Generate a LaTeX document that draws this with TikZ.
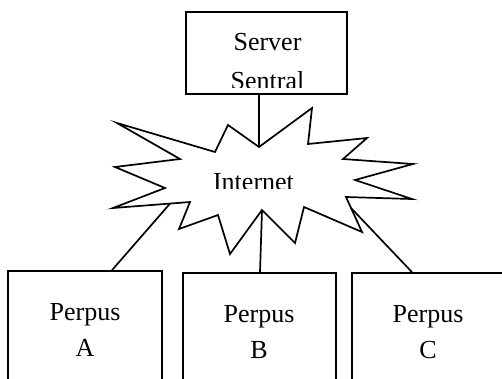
\documentclass[tikz,border=0pt]{standalone}
\usepackage{fontspec}
\setmainfont{Liberation Serif}
\begin{document}
\begin{tikzpicture}[x=1pt,y=-1pt, line width=1.7pt, line join=miter,
  boxshape/.style={draw, line width=1.7pt, inner sep=0pt},
  lbl/.style={anchor=base, inner sep=0pt, font=\fontsize{26}{39}\selectfont},
  link/.style={draw, line width=1.7pt}]
\useasboundingbox (0,0) rectangle (502,378);
\clip (0,0) rectangle (502,378);

% central server box
\node[boxshape, minimum width=161pt, minimum height=82pt] (srv) at (266.5,53) {};
\node[lbl] (srvA) at (267.5,50) {Server};
\begin{scope}
  \clip (187,60) rectangle (346,87);
  \node[lbl] (srvB) at (267.5,89) {Sentral};
\end{scope}

% internet cloud (star burst)
\coordinate (s1) at (259,147);
\coordinate (s2) at (312,108);
\coordinate (s3) at (308,144);
\coordinate (s4) at (367,138);
\coordinate (s5) at (343,159);
\coordinate (s6) at (413,164);
\coordinate (s7) at (355,180);
\coordinate (s8) at (412,199);
\coordinate (s9) at (346,197);
\coordinate (s10) at (362,232);
\coordinate (s11) at (304,207);
\coordinate (s12) at (295,243);
\coordinate (s13) at (262,210);
\coordinate (s14) at (230,254);
\coordinate (s15) at (218,215);
\coordinate (s16) at (179,229);
\coordinate (s17) at (190,202);
\coordinate (s18) at (113,208);
\coordinate (s19) at (165,188);
\coordinate (s20) at (115,167);
\coordinate (s21) at (180,159);
\coordinate (s22) at (117,123);
\coordinate (s23) at (215,152);
\coordinate (s24) at (228,125);
\draw (s1) -- (s2) -- (s3) -- (s4) -- (s5) -- (s6) -- (s7) -- (s8) -- (s9)
  -- (s10) -- (s11) -- (s12) -- (s13) -- (s14) -- (s15) -- (s16) -- (s17)
  -- (s18) -- (s19) -- (s20) -- (s21) -- (s22) -- (s23) -- (s24) -- cycle;
\begin{scope}
  \clip (205,160) rectangle (305,188.5);
  \node[lbl] (net) at (253.5,190) {Internet};
\end{scope}

% library boxes
\node[boxshape, minimum width=154pt, minimum height=140pt] (pa) at (85,341) {};
\node[boxshape, minimum width=153pt, minimum height=140pt] (pb) at (259.5,343) {};
\node[boxshape, minimum width=170pt, minimum height=140pt] (pc) at (437,343) {};
\node[lbl] (pa1) at (85,320) {Perpus};
\node[lbl] (pa2) at (85,356) {A};
\node[lbl] (pb1) at (259,322) {Perpus};
\node[lbl] (pb2) at (259,358) {B};
\node[lbl] (pc1) at (428,322) {Perpus};
\node[lbl] (pc2) at (428,358) {C};

% connectors
\coordinate (ea) at (170,203.6);
\coordinate (ec) at (351,208);
\path[link] (srv.south -| s1) -- (s1);
\path[link] (ea) -- (pa.north -| 112,0);
\path[link] (s13) -- (pb.north -| 260,0);
\path[link] (ec) -- (pc.north -| 412,0);
\end{tikzpicture}
\end{document}
